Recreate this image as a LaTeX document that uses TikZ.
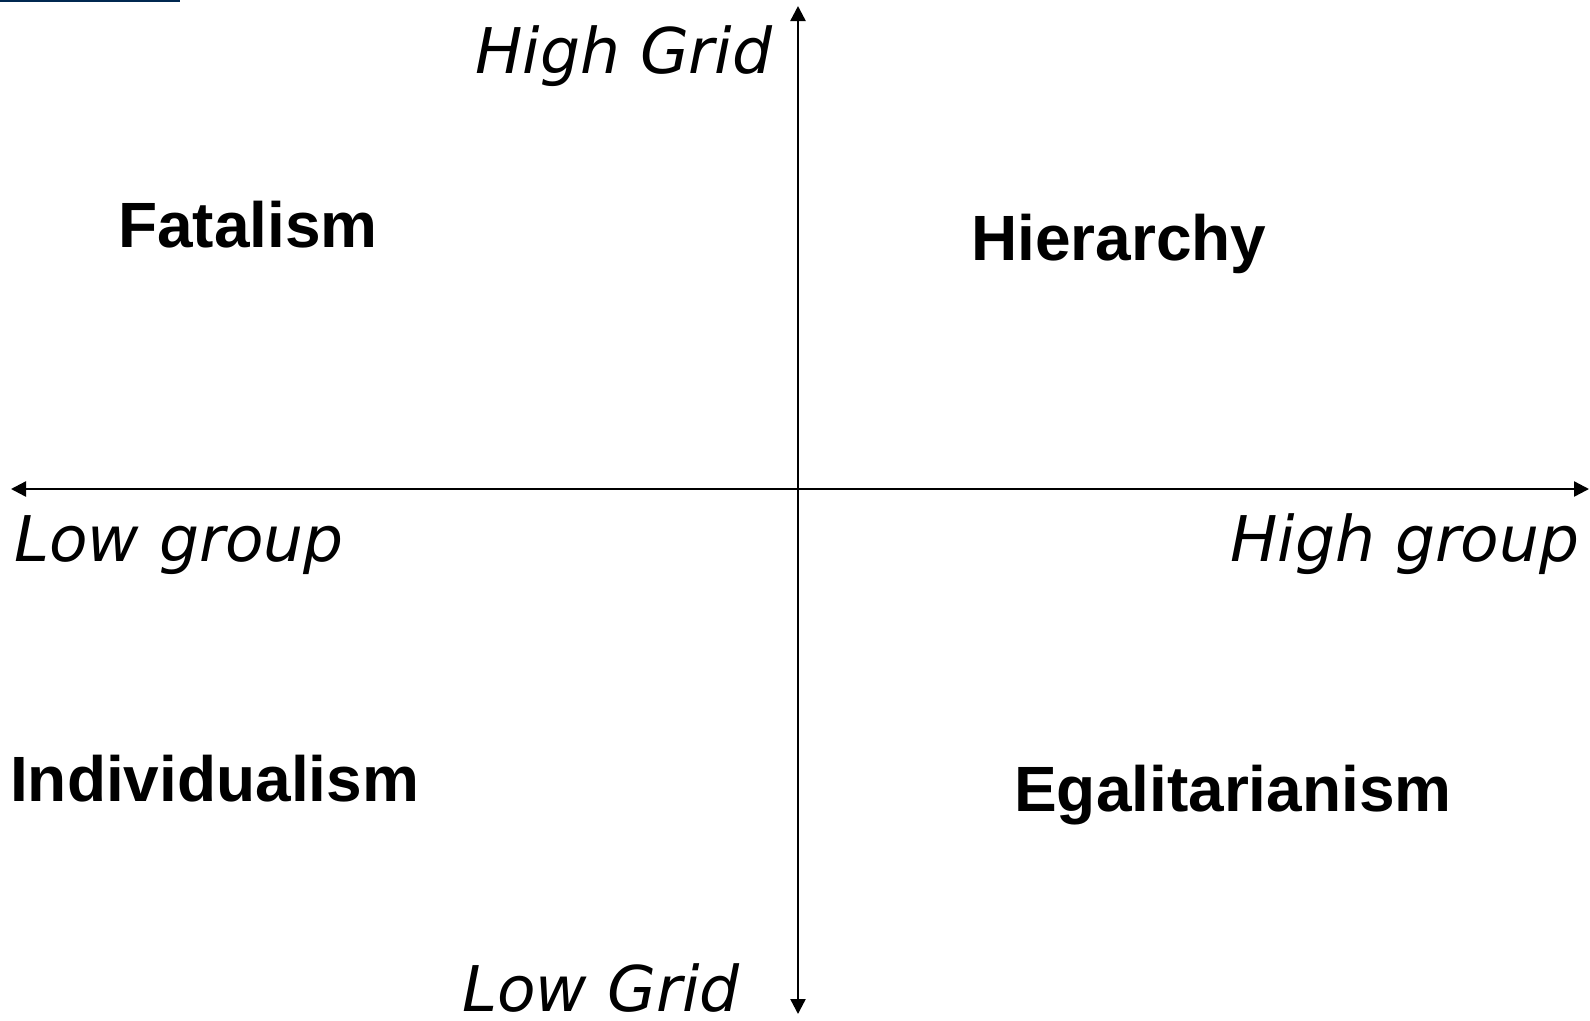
\documentclass[tikz,border=0pt]{standalone}
\usepackage{fontspec}
\setmainfont{Liberation Sans}
\newfontfamily\axfont{DejaVu Sans}
\usetikzlibrary{arrows.meta}
\tikzset{
  axis/.style={line width=2.4pt,{Triangle[length=15pt,width=15pt]}-{Triangle[length=15pt,width=15pt]}},
  axlabel/.style={inner sep=0pt,anchor=base west,font=\axfont\itshape\fontsize{63}{70}\selectfont},
  culture/.style={inner sep=0pt,anchor=base west,font=\bfseries\fontsize{64}{70}\selectfont}
}
\begin{document}
\begin{tikzpicture}[x=1pt,y=-1pt]
\useasboundingbox (0,0) rectangle (1590,1020);
\fill[white] (0,0) rectangle (1590,1020);
\fill[fill={rgb,255:red,0;green,40;blue,80}] (0,0) rectangle (180,2);
\coordinate (top) at (798,6);
\coordinate (bottom) at (798,1014);
\coordinate (left) at (11,489);
\coordinate (right) at (1589,489);
\draw[axis] (bottom) -- (top);
\draw[axis] (left) -- (right);
\node[axlabel] (hg) at (475,73) {High Grid};
\node[axlabel] (lg) at (462,1011) {Low Grid};
\node[axlabel] (lgr) at (14,561) {Low group};
\node[axlabel] (hgr) at (1230,561) {High group};
\node[culture] (fat) at (118,247) {Fatalism};
\node[culture] (hier) at (971,260) {Hierarchy};
\node[culture] (ind) at (10,801) {Individualism};
\node[culture] (ega) at (1014,811) {Egalitarianism};
\end{tikzpicture}
\end{document}
